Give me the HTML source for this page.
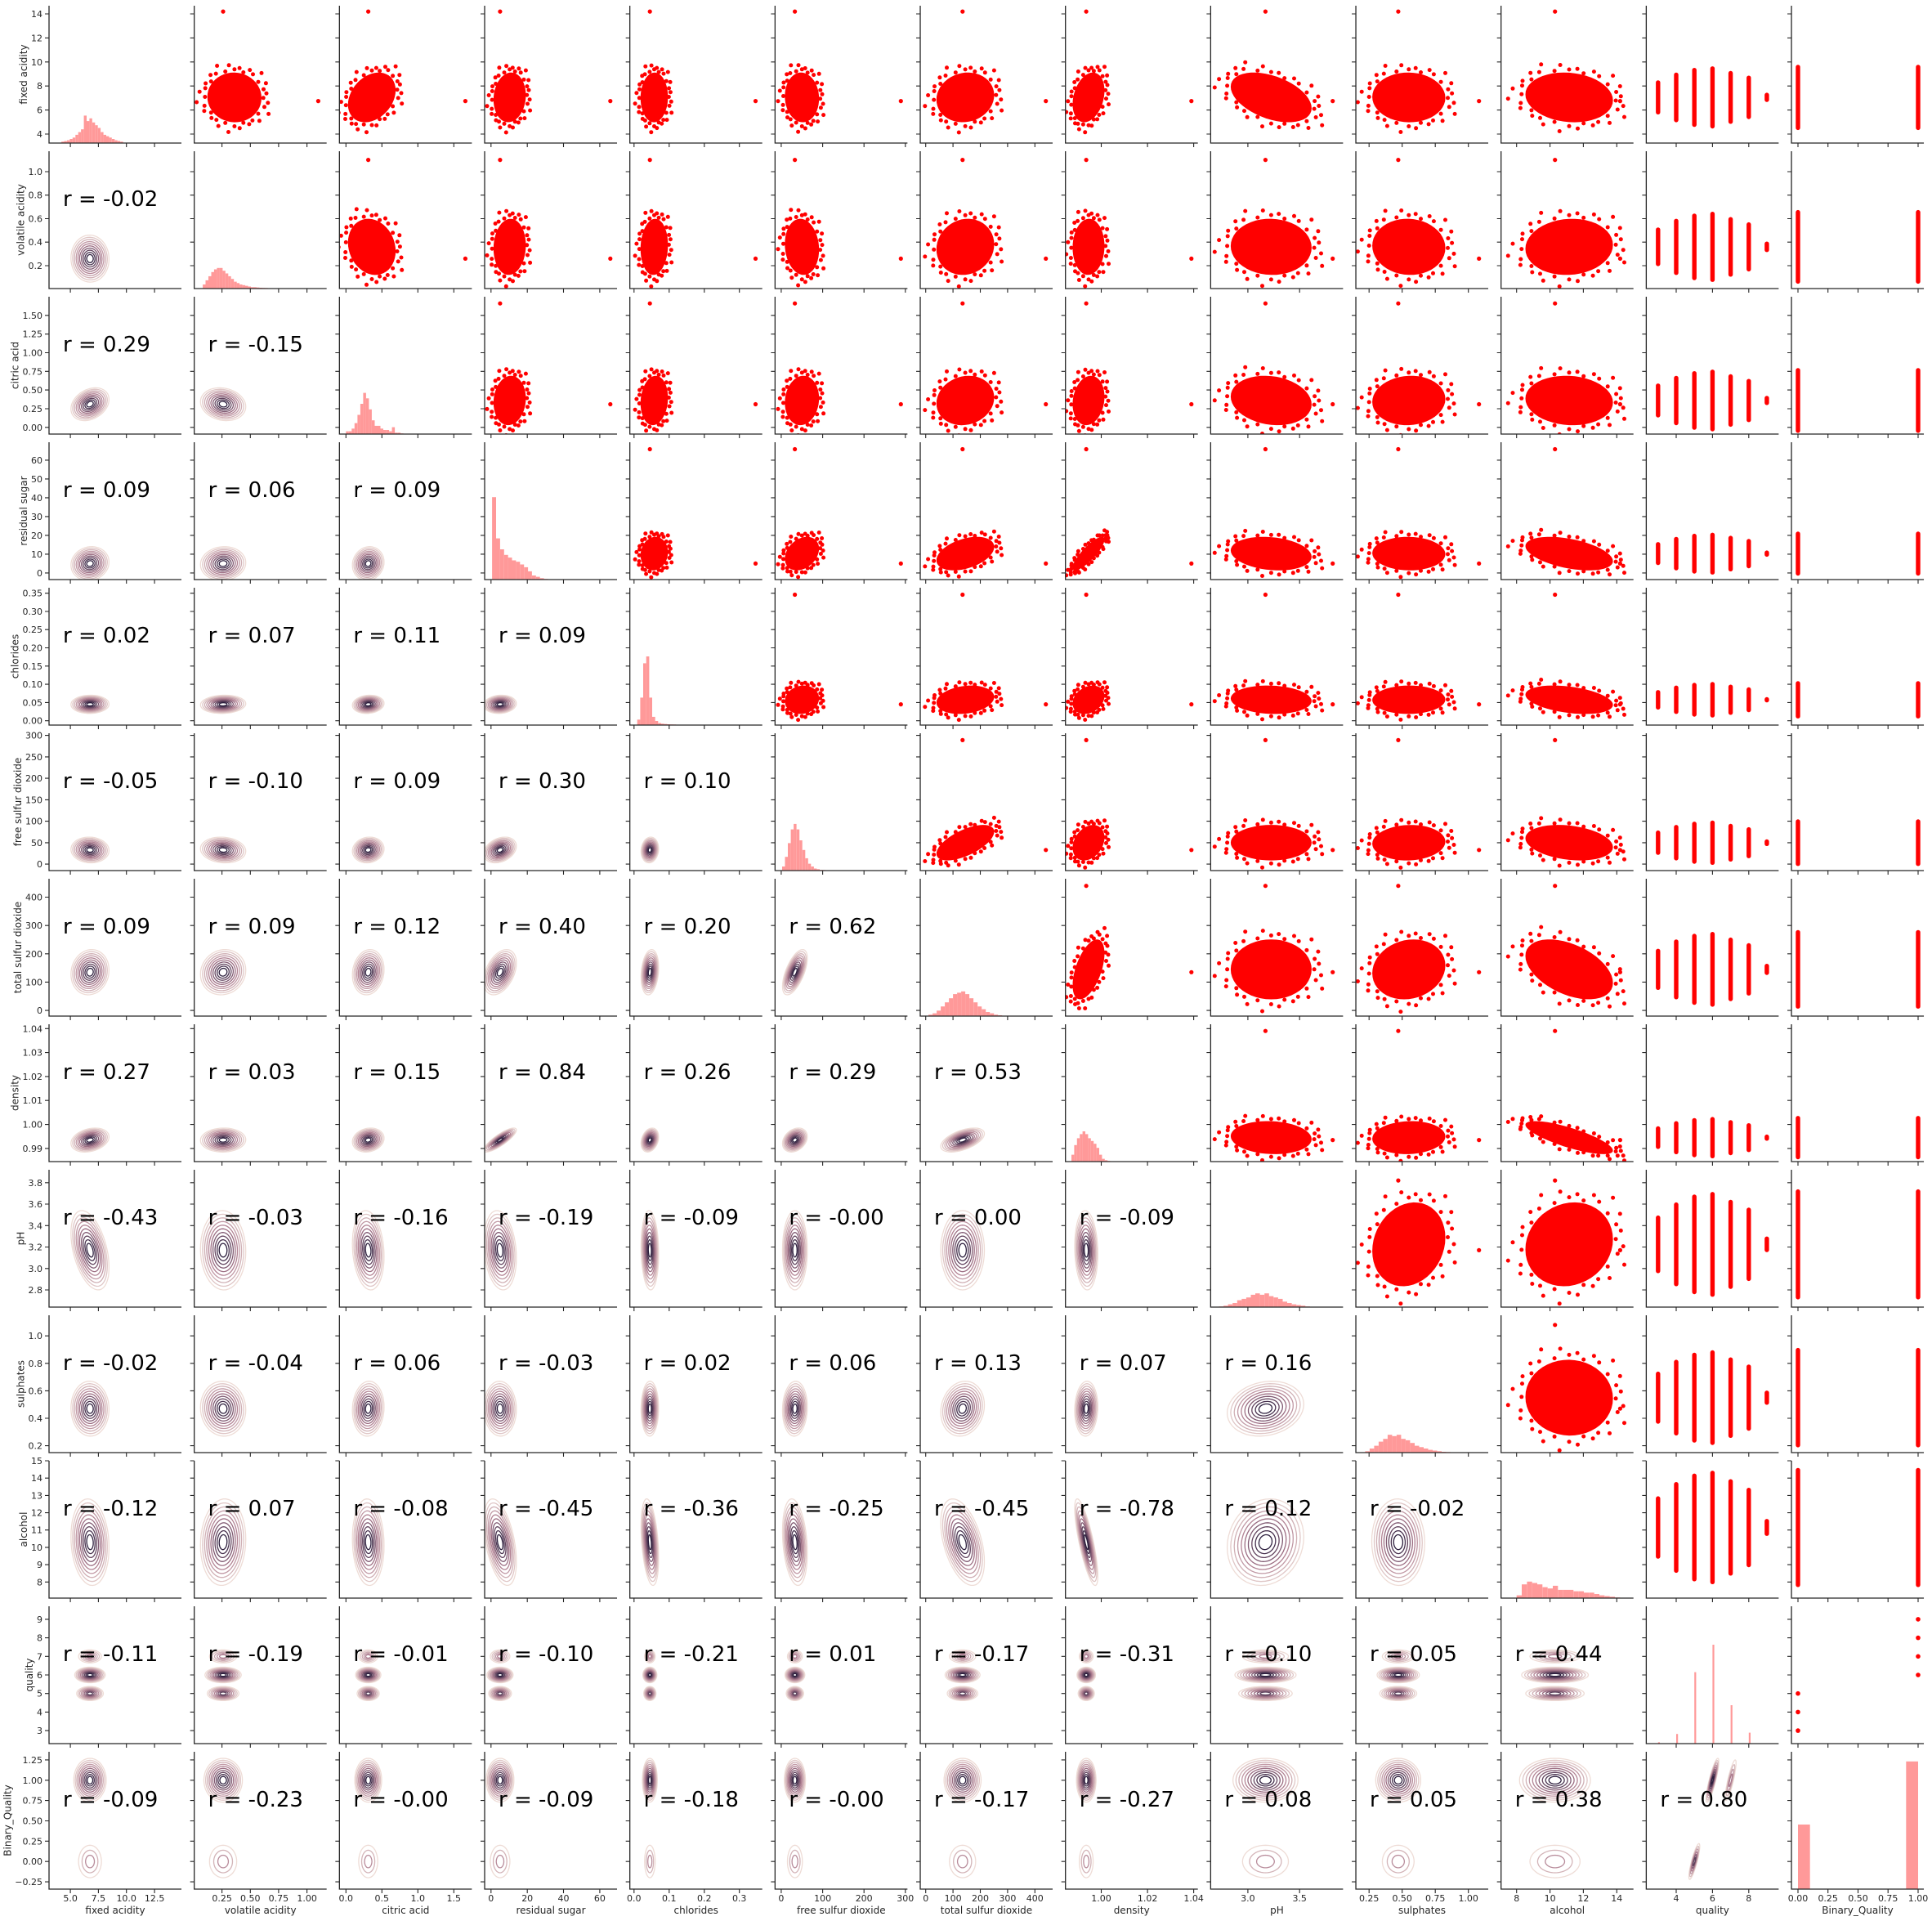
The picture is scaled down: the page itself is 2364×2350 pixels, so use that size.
<!DOCTYPE html>
<html><head><meta charset="utf-8"><title>Wine pair plot</title>
<style>
html,body{margin:0;padding:0;background:#fff;}
svg{display:block;font-family:"DejaVu Sans","Liberation Sans",sans-serif;}
</style></head>
<body>
<svg id="chart" xmlns="http://www.w3.org/2000/svg" width="2364" height="2350" viewBox="0 0 2364 2350"></svg>
<script>
const names = ["fixed acidity","volatile acidity","citric acid","residual sugar","chlorides","free sulfur dioxide","total sulfur dioxide","density","pH","sulphates","alcohol","quality","Binary_Quality"];
const xMin = [3.1,0.005,-0.09,-3.5,-0.012,-15,-20,0.9845,2.64,0.15,7.07,2.35,-0.054];
const xMax = [14.9,1.174,1.75,69.5,0.365,305,465,1.0418,3.92,1.15,15.0,9.65,1.048];
const yMin = [3.25,0.005,-0.09,-3.5,-0.012,-15,-20,0.9845,2.64,0.15,7.07,2.3,-0.34];
const yMax = [14.68,1.174,1.75,69.5,0.365,305,465,1.0418,3.92,1.15,15.0,9.7,1.35];
const yTicks = [[4,6,8,10,12,14],[0.2,0.4,0.6,0.8,1.0],[0,0.25,0.5,0.75,1,1.25,1.5],[0,10,20,30,40,50,60],[0,0.05,0.1,0.15,0.2,0.25,0.3,0.35],[0,50,100,150,200,250,300],[0,100,200,300,400],[0.99,1.0,1.01,1.02,1.03,1.04],[2.8,3.0,3.2,3.4,3.6,3.8],[0.2,0.4,0.6,0.8,1.0],[8,9,10,11,12,13,14,15],[3,4,5,6,7,8,9],[-0.25,0,0.25,0.5,0.75,1,1.25]];
const yTickLabels = [["4","6","8","10","12","14"],["0.2","0.4","0.6","0.8","1.0"],["0.00","0.25","0.50","0.75","1.00","1.25","1.50"],["0","10","20","30","40","50","60"],["0.00","0.05","0.10","0.15","0.20","0.25","0.30","0.35"],["0","50","100","150","200","250","300"],["0","100","200","300","400"],["0.99","1.00","1.01","1.02","1.03","1.04"],["2.8","3.0","3.2","3.4","3.6","3.8"],["0.2","0.4","0.6","0.8","1.0"],["8","9","10","11","12","13","14","15"],["3","4","5","6","7","8","9"],["\u22120.25","0.00","0.25","0.50","0.75","1.00","1.25"]];
const xTicks = [[5,7.5,10,12.5],[0.25,0.5,0.75,1.0],[0,0.5,1,1.5],[0,20,40,60],[0,0.1,0.2,0.3],[0,100,200,300],[0,100,200,300,400],[1.0,1.02,1.04],[3.0,3.5],[0.25,0.5,0.75,1.0],[8,10,12,14],[4,6,8],[0,0.25,0.5,0.75,1]];
const xTickLabels = [["5.0","7.5","10.0","12.5"],["0.25","0.50","0.75","1.00"],["0.0","0.5","1.0","1.5"],["0","20","40","60"],["0.0","0.1","0.2","0.3"],["0","100","200","300"],["0","100","200","300","400"],["1.00","1.02","1.04"],["3.0","3.5"],["0.25","0.50","0.75","1.00"],["8","10","12","14"],["4","6","8"],["0.00","0.25","0.50","0.75","1.00"]];
const corrRows = [[],[-0.02],[0.29,-0.15],[0.09,0.06,0.09],[0.02,0.07,0.11,0.09],[-0.05,-0.10,0.09,0.30,0.10],[0.09,0.09,0.12,0.40,0.20,0.62],[0.27,0.03,0.15,0.84,0.26,0.29,0.53],[-0.43,-0.03,-0.16,-0.19,-0.09,-0,0.00,-0.09],[-0.02,-0.04,0.06,-0.03,0.02,0.06,0.13,0.07,0.16],[-0.12,0.07,-0.08,-0.45,-0.36,-0.25,-0.45,-0.78,0.12,-0.02],[-0.11,-0.19,-0.01,-0.10,-0.21,0.01,-0.17,-0.31,0.10,0.05,0.44],[-0.09,-0.23,-0,-0.09,-0.18,-0,-0.17,-0.27,0.08,0.05,0.38,0.80]];
const bulkLo = [4.8,0.1,0.0,0.6,0.015,5,30,0.987,2.8,0.25,8.3];
const bulkHi = [9.3,0.62,0.72,20,0.1,95,260,1.002,3.65,0.85,14];
const dataMax = [14.2,1.1,1.66,65.8,0.346,289,440,1.039,3.82,1.08,14.2];
const kdeC = [6.75,0.26,0.31,5,0.045,33,135,0.9935,3.17,0.47,10.3];
const kdeH = [1.7,0.2,0.22,9,0.025,30,80,0.005,0.37,0.2,2.5];
const qualVals = [3,4,5,6,7,8,9];
const qualFrac = [0.55,0.8,0.95,1,0.85,0.7,0.15];
const histStart = [4.2,0.08,0,0.6,0.009,2,10,0.9871,2.72,0.22,8,3,0];
const histStep = [0.25,0.025,0.04,2.2,0.0085,7,15,0.0012,0.044,0.034,0.31,1,0.1];
const histWidth = [null,null,null,null,null,null,null,null,null,null,null,0.1,null];
const histVals = [
 [.01,.015,.02,.03,.04,.06,.08,.1,.2,.16,.18,.15,.13,.11,.08,.06,.05,.04,.03,.02,.015,.01],
 [.03,.06,.09,.12,.14,.15,.15,.13,.11,.09,.07,.05,.04,.03,.025,.02,.015,.01,.01,.008,.006,.005,.004,.003,.002,.002],
 [.02,.02,.04,.08,.14,.22,.3,.26,.18,.1,.06,.06,.04,.03,.03,.02,.05,.01,.01,.005],
 [.6,.3,.22,.18,.16,.14,.13,.11,.09,.06,.03,.02,.01,.005],
 [.04,.2,.45,.5,.2,.06,.03,.015,.01,.008,.006,.005,.004,.003,.003,.003,.002,.002,.002],
 [.03,.1,.2,.3,.34,.3,.22,.15,.09,.05,.03,.015,.01,.005,.004,.003,.002],
 [.01,.02,.04,.07,.1,.13,.16,.17,.18,.16,.13,.1,.07,.05,.03,.02,.01,.006,.003],
 [.05,.12,.17,.2,.22,.2,.17,.15,.13,.1,.05,.02,.01,.005],
 [.005,.01,.02,.03,.05,.06,.07,.09,.1,.09,.1,.08,.07,.06,.04,.03,.02,.015,.01,.005,.003,.002,.002],
 [.01,.03,.05,.08,.1,.13,.12,.13,.1,.09,.07,.05,.04,.03,.02,.015,.01,.006,.004,.003,.002],
 [.02,.1,.12,.11,.1,.08,.07,.09,.06,.06,.06,.05,.05,.04,.04,.03,.02,.015,.01,.005],
 [.01,.07,.52,.72,.28,.08,.002],
 [.47,0,0,0,0,0,0,0,0,.93]
];
const binQualPairsX = [0,0,0,1,1,1,1];
const binQualPairsY = [3,4,5,6,7,8,9];

const L=60,T=7,PX=177.67,PY=178,W=162,H=168,N=13;
const svg=document.getElementById('chart');
const NS='http://www.w3.org/2000/svg';
function mk(tag,attrs,parent){const e=document.createElementNS(NS,tag);for(const k in attrs)e.setAttribute(k,attrs[k]);(parent||svg).appendChild(e);return e;}
function px(j,v){return L+j*PX+(v-xMin[j])/(xMax[j]-xMin[j])*W;}
function py(i,v){return T+i*PY+H-(v-yMin[i])/(yMax[i]-yMin[i])*H;}
function corr(a,b){return a>b?corrRows[a][b]:corrRows[b][a];}
function fmt(v){return ((v<0||Object.is(v,-0))?'-':'')+Math.abs(v).toFixed(2);}
function lerp(a,b,t){return a+(b-a)*t;}
function ccol(t){const s=[[238,220,214],[170,120,140],[44,30,61]];let a,b,u;if(t<0.5){a=s[0];b=s[1];u=t*2;}else{a=s[1];b=s[2];u=(t-0.5)*2;}return 'rgb('+[0,1,2].map(k=>Math.round(lerp(a[k],b[k],u))).join(',')+')';}
function ellPts(i,j,cx,cy,hx,hy,r,s){const q=Math.sqrt(Math.max(0,1-r*r));let p=[];for(let k=0;k<48;k++){const t=k/48*2*Math.PI;const u=Math.cos(t),v=r*Math.cos(t)+q*Math.sin(t);p.push(px(j,cx+hx*s*u).toFixed(1)+','+py(i,cy+hy*s*v).toFixed(1));}return p.join(' ');}
function contours(g,i,j,cx,cy,hx,hy,r,levels,tmax){for(let k=0;k<levels;k++){const s=1-k/levels*0.92;const t=levels>1?k/(levels-1)*tmax:0;const e=mk('polygon',{points:ellPts(i,j,cx,cy,hx,hy,r,s),fill:'none',stroke:ccol(t),'stroke-width':1.3},g);

}}
const haloScale=[0.98,1.1,1.04,1.2,1.0,1.3,1.07,1.15];

for(let i=0;i<N;i++){for(let j=0;j<N;j++){
 const x0=L+j*PX,y0=T+i*PY;
 const g=mk('g',{});
 
 
 const cp=mk('clipPath',{id:'c'+i+'_'+j},g);mk('rect',{x:x0,y:y0,width:W,height:H},cp);
 const inner=mk('g',{'clip-path':'url(#c'+i+'_'+j+')'},g);
 if(i===j){
  const vals=histVals[i];
  for(let k=0;k<vals.length;k++){if(vals[k]<=0)continue;const a=histStart[i]+k*histStep[i];const w=histWidth[i]||histStep[i];const xa=px(j,a),xb=px(j,a+w);
   const b=mk('rect',{x:xa.toFixed(1),y:(y0+H-vals[k]*H).toFixed(1),width:Math.max(0.8,xb-xa).toFixed(1),height:(vals[k]*H).toFixed(1),fill:'#ff9999'},inner);
   
   }
 } else if(j>i){
  if(j<=10){
   const r=corr(i,j);const cx=(bulkLo[j]+bulkHi[j])/2,hx=(bulkHi[j]-bulkLo[j])/2,cy=(bulkLo[i]+bulkHi[i])/2,hy=(bulkHi[i]-bulkLo[i])/2;
   const cl=mk('polygon',{points:ellPts(i,j,cx,cy,hx,hy,r,0.92),fill:'#ff0000'},inner);
   
   
   const q=Math.sqrt(1-r*r);
   for(let k=0;k<40;k++){const t=k/40*2*Math.PI;const s=haloScale[k%8];const u=Math.cos(t),v=r*Math.cos(t)+q*Math.sin(t);
    const d=mk('circle',{cx:px(j,cx+hx*s*u).toFixed(1),cy:py(i,cy+hy*s*v).toFixed(1),r:2.5,fill:'#ff0000'},inner);
    
    }
   const o1=mk('circle',{cx:px(j,kdeC[j]).toFixed(1),cy:py(i,dataMax[i]).toFixed(1),r:2.6,fill:'#ff0000'},inner);
   
   
   const o2=mk('circle',{cx:px(j,dataMax[j]).toFixed(1),cy:py(i,kdeC[i]).toFixed(1),r:2.6,fill:'#ff0000'},inner);
   
   
  } else if(i<=10){
   const cy=(bulkLo[i]+bulkHi[i])/2,hy=(bulkHi[i]-bulkLo[i])/2*1.15;
   const xs=j===11?qualVals:[0,1];const fr=j===11?qualFrac:[1.05,1.05];
   for(let k=0;k<xs.length;k++){const xc=px(j,xs[k]);const ya=py(i,cy+hy*fr[k]),yb=py(i,cy-hy*fr[k]);
    const s=mk('rect',{x:(xc-2.7).toFixed(1),y:ya.toFixed(1),width:5.4,height:(yb-ya).toFixed(1),rx:2.7,fill:'#ff0000'},inner);
    
    }
  } else {
   for(let k=0;k<binQualPairsX.length;k++){const d=mk('circle',{cx:px(j,binQualPairsX[k]).toFixed(1),cy:py(i,binQualPairsY[k]).toFixed(1),r:2.8,fill:'#ff0000'},inner);
    
    }
  }
 } else {
  const r=corr(i,j);
  if(i<=10){contours(inner,i,j,kdeC[j],kdeC[i],kdeH[j],kdeH[i],r,10,1);}
  else if(i===11){
   if(j<=10){contours(inner,i,j,kdeC[j],6,kdeH[j]*0.8,0.42,0,10,1);contours(inner,i,j,kdeC[j],5,kdeH[j]*0.7,0.38,0,8,0.8);contours(inner,i,j,kdeC[j],7,kdeH[j]*0.6,0.35,0,5,0.5);}
  } else {
   if(j<=10){contours(inner,i,j,kdeC[j],1,kdeH[j]*0.85,0.27,0,10,1);contours(inner,i,j,kdeC[j],0,kdeH[j]*0.6,0.2,0,3,0.4);}
   else {contours(inner,i,j,6,1,0.35,0.27,0.85,9,1);contours(inner,i,j,7,1,0.3,0.25,0.85,4,0.5);contours(inner,i,j,5,0,0.3,0.22,0.85,6,0.8);}
  }
  const tx=mk('text',{x:x0+17,y:y0+67,'font-size':26,fill:'#000'},g);
  tx.textContent='r = '+fmt(r);
  
  
 }
 const sp=mk('path',{d:'M'+x0+','+y0+'V'+(y0+H)+'H'+(x0+W),fill:'none',stroke:'#262626','stroke-width':1.3},g);
 
 
 let td='';
 yTicks[i].forEach(v=>{const y=py(i,v);if(y>=y0-0.5&&y<=y0+H+0.5)td+='M'+(x0-5)+','+y.toFixed(1)+'H'+x0;});
 xTicks[j].forEach(v=>{const x=px(j,v);if(x>=x0-0.5&&x<=x0+W+0.5)td+='M'+x.toFixed(1)+','+(y0+H)+'V'+(y0+H+5);});
 const tk=mk('path',{d:td,stroke:'#262626','stroke-width':1.1},g);
 
 
}}
for(let i=0;i<N;i++){let maxw=0;
 yTicks[i].forEach((v,k)=>{const t=mk('text',{x:52,y:(py(i,v)+4).toFixed(1),'font-size':11,'text-anchor':'end',fill:'#262626'});t.textContent=yTickLabels[i][k];
  
  
  try{maxw=Math.max(maxw,t.getComputedTextLength());}catch(e){maxw=Math.max(maxw,yTickLabels[i][k].length*7);} });
 const cx=52-maxw-9,cy=T+i*PY+H/2;
 const yl=mk('text',{x:cx,y:cy,'font-size':12,'text-anchor':'middle','dominant-baseline':'central',transform:'rotate(-90 '+cx+' '+cy+')',fill:'#262626'});yl.textContent=names[i];
 
 
}
for(let j=0;j<N;j++){
 xTicks[j].forEach((v,k)=>{const t=mk('text',{x:px(j,v).toFixed(1),y:2326,'font-size':11,'text-anchor':'middle',fill:'#262626'});t.textContent=xTickLabels[j][k];
  
  });
 const xl=mk('text',{x:(L+j*PX+W/2).toFixed(1),y:2341,'font-size':12,'text-anchor':'middle',fill:'#262626'});xl.textContent=names[j];
 
 
}
</script>
</body></html>
